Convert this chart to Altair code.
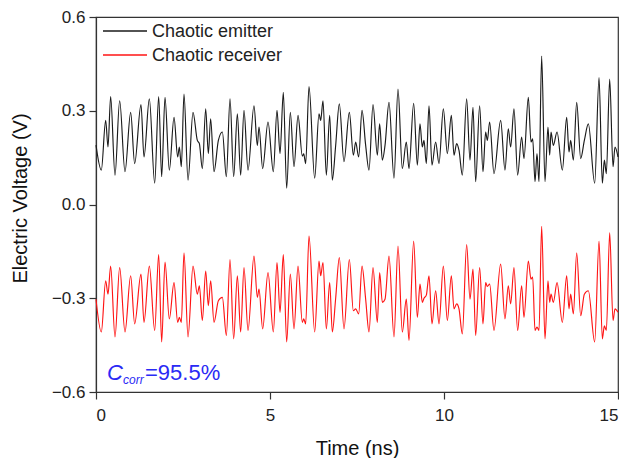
import altair as alt
import pandas as pd

# time of each turning point (ns)
time_ns = [0.000, 0.153, 0.278, 0.345, 0.421, 0.546, 0.680, 0.833, 0.996, 1.111, 1.293, 1.379, 1.533, 1.686, 1.801, 1.887, 1.983, 2.107,
           2.242, 2.347, 2.395, 2.452, 2.529, 2.644, 2.788, 2.912, 2.970, 3.056, 3.152, 3.228, 3.295, 3.391, 3.516, 3.631, 3.746, 3.851, 3.956, 4.062, 4.157, 4.253,
           4.368, 4.540, 4.636, 4.684, 4.789, 4.943, 5.096, 5.201, 5.288, 5.383, 5.479, 5.584, 5.690, 5.805, 5.929, 5.968, 6.025, 6.121, 6.284, 6.408, 6.456, 6.523,
           6.619, 6.715, 6.791, 6.887, 6.992, 7.126, 7.280, 7.395, 7.462, 7.548, 7.644, 7.749, 7.845, 7.960, 8.084, 8.151, 8.228, 8.305, 8.420, 8.563, 8.678,
           8.802, 8.917, 8.994, 9.128, 9.234, 9.310, 9.377, 9.425, 9.492, 9.569, 9.655, 9.760, 9.856, 9.981, 10.096, 10.211, 10.287, 10.364, 10.431, 10.527, 10.651, 10.747, 10.833,
           10.910, 11.024, 11.120, 11.197, 11.245, 11.312, 11.436, 11.628, 11.752, 11.848, 11.915, 12.011, 12.116, 12.231, 12.298, 12.423, 12.500, 12.548, 12.615, 12.672, 12.730, 12.806, 12.902, 12.988,
           13.037, 13.075, 13.142, 13.248, 13.401, 13.525, 13.592, 13.640, 13.717, 13.813, 13.928, 14.033, 14.148, 14.330, 14.455, 14.550, 14.608, 14.665, 14.761, 14.857, 14.914, 15.000]

emitter_v = [0.190, 0.110, 0.269, 0.184, 0.345, 0.094, 0.332, 0.105, 0.295, 0.131, 0.320, 0.152, 0.338, 0.068, 0.345, 0.089, 0.343, 0.110,
             0.279, 0.152, 0.184, 0.121, 0.353, 0.078, 0.295, 0.205, 0.195, 0.115, 0.306, 0.163, 0.274, 0.105, 0.205, 0.232, 0.089, 0.338, 0.089, 0.290, 0.094, 0.301,
             0.110, 0.316, 0.189, 0.248, 0.115, 0.264, 0.105, 0.301, 0.163, 0.359, 0.052, 0.295, 0.121, 0.285, 0.155, 0.162, 0.131, 0.377, 0.084, 0.290, 0.269, 0.332,
             0.094, 0.285, 0.078, 0.189, 0.322, 0.137, 0.295, 0.158, 0.200, 0.152, 0.301, 0.189, 0.110, 0.320, 0.158, 0.258, 0.142, 0.189, 0.327, 0.084, 0.369,
             0.115, 0.200, 0.115, 0.324, 0.126, 0.258, 0.184, 0.205, 0.131, 0.316, 0.126, 0.200, 0.131, 0.306, 0.163, 0.285, 0.158, 0.195, 0.173, 0.094, 0.338, 0.142, 0.311,
             0.073, 0.316, 0.105, 0.232, 0.205, 0.264, 0.099, 0.269, 0.110, 0.242, 0.184, 0.306, 0.094, 0.216, 0.147, 0.343, 0.200, 0.210, 0.073, 0.163, 0.073, 0.475, 0.073, 0.248,
             0.158, 0.232, 0.189, 0.232, 0.110, 0.279, 0.168, 0.205, 0.142, 0.327, 0.147, 0.205, 0.258, 0.068, 0.406, 0.068, 0.142, 0.099, 0.401, 0.121, 0.184, 0.152]

receiver_v = [-0.303, -0.408, -0.244, -0.287, -0.197, -0.424, -0.202, -0.408, -0.228, -0.382, -0.223, -0.377, -0.197, -0.403, -0.160, -0.440, -0.184, -0.366,
              -0.250, -0.377, -0.361, -0.377, -0.155, -0.424, -0.197, -0.287, -0.260, -0.371, -0.213, -0.324, -0.244, -0.377, -0.308, -0.297, -0.419, -0.176, -0.430, -0.228, -0.408, -0.202,
              -0.403, -0.165, -0.297, -0.271, -0.398, -0.218, -0.408, -0.186, -0.345, -0.160, -0.440, -0.223, -0.398, -0.197, -0.377, -0.366, -0.382, -0.101, -0.408, -0.181, -0.228, -0.186,
              -0.398, -0.250, -0.408, -0.300, -0.170, -0.398, -0.176, -0.340, -0.334, -0.350, -0.197, -0.303, -0.408, -0.202, -0.377, -0.218, -0.313, -0.303, -0.165, -0.424, -0.133,
              -0.408, -0.303, -0.435, -0.117, -0.361, -0.255, -0.313, -0.300, -0.290, -0.228, -0.382, -0.276, -0.382, -0.197, -0.371, -0.228, -0.334, -0.318, -0.334, -0.414, -0.128, -0.303, -0.207,
              -0.419, -0.202, -0.382, -0.250, -0.262, -0.255, -0.403, -0.191, -0.366, -0.260, -0.318, -0.202, -0.403, -0.260, -0.361, -0.181, -0.239, -0.232, -0.403, -0.392, -0.403, -0.070, -0.430, -0.244,
              -0.313, -0.287, -0.313, -0.250, -0.377, -0.228, -0.334, -0.287, -0.350, -0.155, -0.356, -0.287, -0.276, -0.440, -0.117, -0.430, -0.388, -0.403, -0.091, -0.371, -0.334, -0.345]

series_names = ["Chaotic emitter", "Chaotic receiver"]
series_colors = ["#1a1a1a", "#ff1414"]
x_ticks = [0, 5, 10, 15]
y_ticks = [-0.6, -0.3, 0.0, 0.3, 0.6]

rows = []
for t, v in zip(time_ns, emitter_v):
    rows.append({"t": t, "v": v, "s": series_names[0]})
for t, v in zip(time_ns, receiver_v):
    rows.append({"t": t, "v": v, "s": series_names[1]})
df = pd.DataFrame(rows)

FONT = "Liberation Sans"

lines = alt.Chart(df).mark_line(strokeWidth=1.15, interpolate="monotone").encode(
    x=alt.X("t:Q", scale=alt.Scale(domain=[0, 15], nice=False),
            axis=alt.Axis(values=x_ticks, title="Time (ns)", grid=False, tickSize=7,
                          labelPadding=8, titleY=56, titleBaseline="middle")),
    y=alt.Y("v:Q", scale=alt.Scale(domain=[-0.6, 0.6], nice=False),
            axis=alt.Axis(values=y_ticks, format=".1f", title="Electric Voltage (V)", grid=False,
                          tickSize=7, labelPadding=4, titleX=-76, titleY=181,
                          titleAngle=270, titleAlign="center", titleBaseline="middle")),
    color=alt.Color("s:N", scale=alt.Scale(domain=series_names, range=series_colors), legend=None),
    detail="s:N",
)

one = pd.DataFrame({"a": [0]})
leg_rule1 = alt.Chart(one).mark_rule(color=series_colors[0], strokeWidth=1.3).encode(
    x=alt.value(7), x2=alt.value(51), y=alt.value(14))
leg_rule2 = alt.Chart(one).mark_rule(color=series_colors[1], strokeWidth=1.3).encode(
    x=alt.value(7), x2=alt.value(51), y=alt.value(38))
leg_text1 = alt.Chart(one).mark_text(align="left", baseline="middle", font=FONT, fontSize=18, color="#222").encode(
    x=alt.value(56), y=alt.value(15), text=alt.value(series_names[0]))
leg_text2 = alt.Chart(one).mark_text(align="left", baseline="middle", font=FONT, fontSize=18, color="#222").encode(
    x=alt.value(56), y=alt.value(39), text=alt.value(series_names[1]))

blue = "#2a2af5"
corr_c = alt.Chart(one).mark_text(align="left", baseline="middle", font=FONT, fontSize=22, fontStyle="italic", color=blue).encode(
    x=alt.value(11), y=alt.value(356), text=alt.value("C"))
corr_sub = alt.Chart(one).mark_text(align="left", baseline="middle", font=FONT, fontSize=12, fontStyle="italic", color=blue).encode(
    x=alt.value(27), y=alt.value(363), text=alt.value("corr"))
corr_val = alt.Chart(one).mark_text(align="left", baseline="middle", font=FONT, fontSize=22, color=blue).encode(
    x=alt.value(49), y=alt.value(356), text=alt.value("=95.5%"))

chart = alt.layer(lines, leg_rule1, leg_rule2, leg_text1, leg_text2, corr_c, corr_sub, corr_val).properties(
    width=522, height=375,
    padding={"left": 88, "top": 9, "right": 1, "bottom": 66},
    autosize=alt.AutoSizeParams(type="none"),
    background="white",
).configure_view(
    stroke="#333", strokeWidth=1.2
).configure_axis(
    labelFont=FONT, titleFont=FONT, labelFontSize=17, titleFontSize=20,
    labelColor="#222", titleColor="#111", titleFontWeight="normal",
    domainColor="#333", tickColor="#333", domainWidth=1.2, tickWidth=1.2,
)

chart.save("out.html", embed_options={"renderer": "svg", "actions": False})
